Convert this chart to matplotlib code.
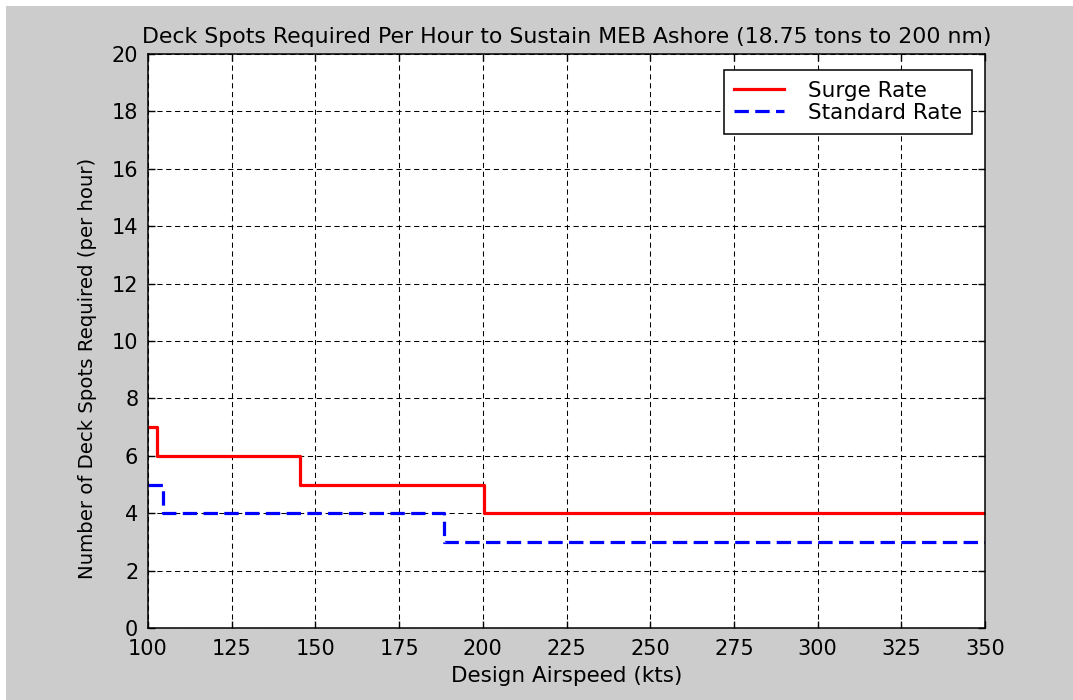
# deck spots required per hour vs design airspeed (step chart)
import matplotlib.pyplot as plt
from matplotlib.patches import Rectangle

plt.rcParams['font.family'] = ['DejaVu Sans']

# data
surge_x = [100, 102.7, 145.5, 200.5, 350]
surge_y = [7, 6, 5, 4, 4]
standard_x = [100, 104.5, 188.5, 350]
standard_y = [5, 4, 3, 3]

x_ticks = [100, 125, 150, 175, 200, 225, 250, 275, 300, 325, 350]
y_ticks = [0, 2, 4, 6, 8, 10, 12, 14, 16, 18, 20]

fig = plt.figure(figsize=(10.73, 7), dpi=100, facecolor='white')
# gray figure panel with thin white strip top/left
fig.patches.append(Rectangle((6 / 1073, 0), 1, 694 / 700, transform=fig.transFigure,
                             facecolor='#cccccc', edgecolor='none', zorder=-10))

ax = fig.add_axes([148 / 1073, 72 / 700, 837 / 1073, 574 / 700])
ax.set_facecolor('white')

ax.plot(surge_x, surge_y, drawstyle='steps-post', color='red', lw=2.3, label='Surge Rate')
ax.plot(standard_x, standard_y, drawstyle='steps-post', color='blue', lw=2.3,
        linestyle=(0, (4.5, 2)), label='Standard Rate')

ax.set_xlim(100, 350)
ax.set_ylim(0, 20)
ax.set_xticks(x_ticks)
ax.set_yticks(y_ticks)
ax.grid(True, color='black', linestyle=(0, (5, 3.5)), linewidth=0.75)
ax.tick_params(direction='in', top=True, right=True, length=5, width=1,
               labelsize=15, colors='black')
ax.tick_params(axis='x', pad=8)
ax.tick_params(axis='y', pad=7)
for s in ax.spines.values():
    s.set_linewidth(1.1)

ax.set_title('Deck Spots Required Per Hour to Sustain MEB Ashore (18.75 tons to 200 nm)',
             fontsize=15.8, pad=8)
ax.set_xlabel('Design Airspeed (kts)', fontsize=15.5)
ax.xaxis.set_label_coords(0.5, -0.067)
ax.set_ylabel('Number of Deck Spots Required (per hour)', fontsize=14.2)
ax.yaxis.set_label_coords(-0.061, 0.452)

leg = ax.legend(loc='upper right', fontsize=15.5, fancybox=False, framealpha=1,
                edgecolor='black', borderpad=0.5, handlelength=2.3, handletextpad=1.1,
                labelspacing=0.1, borderaxespad=0, bbox_to_anchor=(0.985, 0.972))
leg.get_frame().set_linewidth(1.1)

fig.savefig('out.png', dpi=100, facecolor=fig.get_facecolor())
